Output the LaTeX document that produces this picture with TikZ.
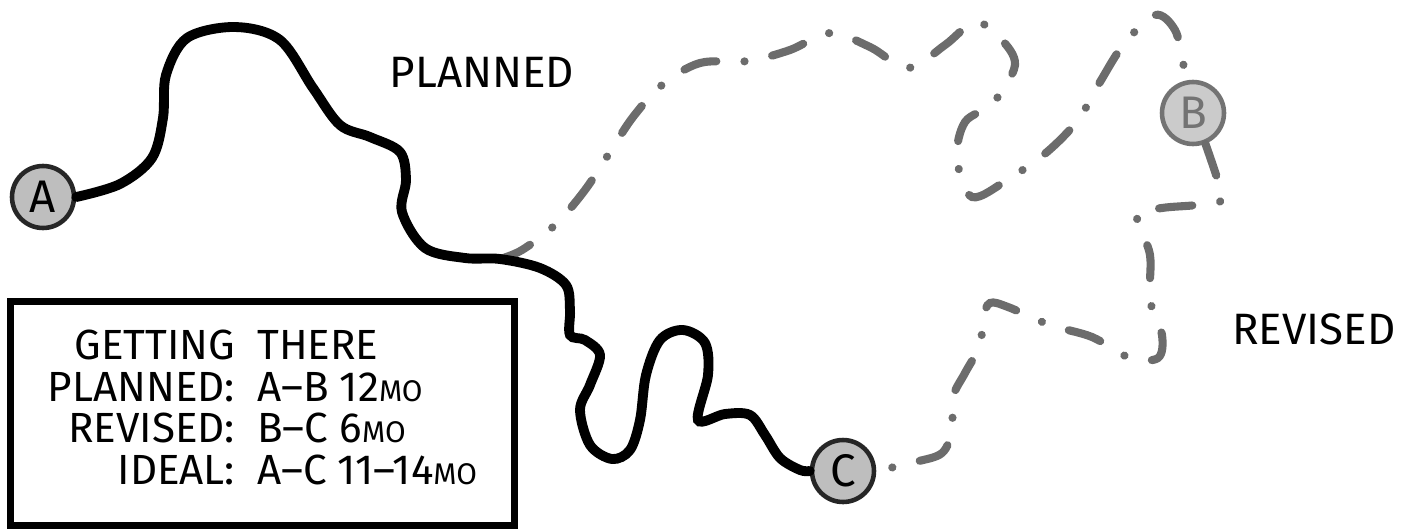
\documentclass[tikz,border=0pt]{standalone}
\usepackage{fontspec}
\setmainfont{Fira Sans}
\usepackage{xcolor}
\usepackage{tikz}
\usetikzlibrary{positioning, calc}
\definecolor{stopfill}{HTML}{BEBEBE}
\definecolor{routegray}{HTML}{6C6C6C}
\newcommand{\monabbr}{{\fontsize{17}{17}\selectfont MO}}

\begin{document}
\begin{tikzpicture}[
  x=0.02cm, y=-0.02cm,
  font=\fontsize{25}{25}\selectfont,
  stop/.style={circle, draw=black!85, line width=2.6pt, fill=stopfill,
               minimum size=1.24cm, inner sep=0pt, font=\fontsize{26}{26}\selectfont},
  faded/.style={draw=black!55, fill=stopfill!80, text=black!55},
  actual/.style={line width=5.6pt, black, line cap=round},
  route/.style={line width=4.6pt, routegray, line cap=round,
                dash pattern=on 19pt off 16pt on 0.1pt off 16pt},
  legendbox/.style={draw, line width=4pt, minimum width=10.1cm, minimum height=4.5cm,
                    inner sep=0pt, align=center, font=\fontsize{24}{23}\selectfont},
  tag/.style={inner sep=0pt},
]
\useasboundingbox (0,0) rectangle (1418,528);

% Stops
\node[stop] (a) at (43,197) {A};
\node[stop, faded] (b) at (1193,113) {B};
\node[stop] (c) at (843,471) {C};

% Labels
\node[tag] (planned) at (482,72) {PLANNED};
\node[tag] (revised) at (1314,329) {REVISED};

% Legend
\node[legendbox] (legend) at (262.5,413.5) {%
  \renewcommand{\arraystretch}{1}%
  \begin{tabular}{@{}r@{\ \ }l@{}}
  GETTING & THERE\\
  PLANNED: & A--B 12\monabbr\\
  REVISED: & B--C 6\monabbr\\
  IDEAL: & A--C 11--14\monabbr
  \end{tabular}};

\coordinate (fork) at (500,259);

% Planned route A-B (dash-dot)
\draw[route] plot[smooth, tension=0.55] coordinates {(fork) (522,250) (555,225) (585,190)
  (610,152) (633,117) (662,85) (700,63) (748,61) (790,50) (830,33) (870,47) (908,68)
  (945,45) (975,22) (1000,38) (1015,65) (993,103) (965,122) (957,158) (972,197)
  (1010,178) (1047,152) (1078,120) (1100,82) (1124,44) (1155,15) (1175,30) (1183,63) (b.100)};

% Revised route B-C
\draw[route] plot[smooth, tension=0.55] coordinates {(b.-68) (1217,178) (1222,200)
  (1197,205) (1162,208) (1137,215) (1150,255) (1150,300) (1162,335) (1158,358)
  (1130,358) (1092,337) (1050,325) (1008,307) (990,303) (983,318) (980,345) (965,373)
  (953,397) (952,430) (942,453) (915,462) (c.east)};

% Actual route A-C
\draw[actual] plot[smooth, tension=0.55] coordinates {(a.east) (120,184) (152,158)
  (163,118) (166,75) (187,38) (235,27) (280,40) (313,88) (340,125) (370,137) (400,152)
  (406,180) (402,212) (425,248) (465,258) (fork) (540,268) (566,285) (570,310) (570,335)
  (585,340) (600,355) (590,385) (580,410) (590,445) (612,459) (630,450) (640,420)
  (646,375) (660,340) (683,330) (705,343) (708,375) (698,420) (725,414) (750,415)
  (765,435) (780,458) (800,470) (c.west)};
\end{tikzpicture}
\end{document}
